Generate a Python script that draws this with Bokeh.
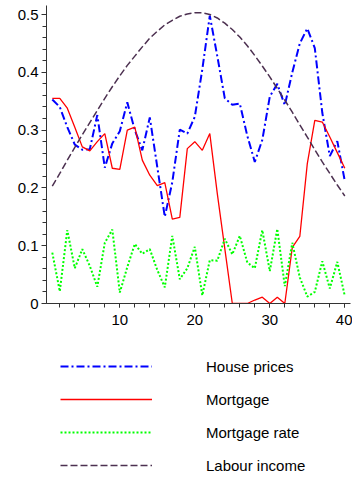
from bokeh.plotting import figure
from bokeh.models import Range1d, Legend, LegendItem, SingleIntervalTicker
from bokeh.layouts import column
from bokeh.embed import file_html
from bokeh.resources import INLINE

# ---- data ----
t = list(range(1, 41))
house_prices = [0.353, 0.340, 0.305, 0.275, 0.266, 0.267, 0.326, 0.235, 0.277, 0.298,
                0.348, 0.300, 0.265, 0.322, 0.236, 0.150, 0.210, 0.301, 0.294, 0.323,
                0.405, 0.498, 0.428, 0.355, 0.344, 0.346, 0.290, 0.245, 0.283, 0.358,
                0.380, 0.343, 0.400, 0.450, 0.476, 0.442, 0.330, 0.255, 0.281, 0.212]
mortgage = [0.355, 0.355, 0.338, 0.305, 0.271, 0.264, 0.280, 0.294, 0.234, 0.232,
            0.300, 0.305, 0.248, 0.222, 0.204, 0.209, 0.146, 0.149, 0.268, 0.280,
            0.265, 0.294, 0.190, 0.095, 0.000, 0.000, 0.000, 0.006, 0.011, 0.000,
            0.011, 0.000, 0.097, 0.116, 0.242, 0.317, 0.314, 0.288, 0.261, 0.234]
mortgage_rate = [0.088, 0.021, 0.127, 0.061, 0.094, 0.065, 0.029, 0.105, 0.128, 0.019,
                 0.063, 0.103, 0.086, 0.094, 0.058, 0.028, 0.117, 0.042, 0.061, 0.098,
                 0.014, 0.075, 0.074, 0.112, 0.085, 0.117, 0.071, 0.061, 0.127, 0.056,
                 0.129, 0.030, 0.105, 0.045, 0.012, 0.020, 0.073, 0.026, 0.072, 0.013]
labour_income = [0.203, 0.225, 0.248, 0.270, 0.292, 0.313, 0.334, 0.355, 0.375, 0.394,
                 0.412, 0.428, 0.444, 0.459, 0.471, 0.482, 0.490, 0.497, 0.501, 0.503,
                 0.503, 0.500, 0.494, 0.485, 0.474, 0.461, 0.446, 0.429, 0.411, 0.392,
                 0.372, 0.352, 0.331, 0.309, 0.288, 0.266, 0.245, 0.225, 0.205, 0.186]
series_names = ["House prices", "Mortgage", "Mortgage rate", "Labour income"]
y_zero_label = {0: "0"}

FONT = "Liberation Sans"
AX = "#333333"

styles = [
    dict(line_color="#0000ff", line_width=2, line_dash="8 3 2 3"),
    dict(line_color="red", line_width=1.3, line_dash="200 1"),
    dict(line_color="#00ff00", line_width=2, line_dash="2 2"),
    dict(line_color="#4c3050", line_width=1.5, line_dash="7 3"),
]
series = [house_prices, mortgage, mortgage_rate, labour_income]

# ---- chart ----
p = figure(width=352, height=330, x_range=Range1d(0.227, 40.76), y_range=Range1d(0, 0.5156),
           output_backend="svg", toolbar_location=None,
           min_border_left=46, min_border_right=2, min_border_top=5, min_border_bottom=27)
p.outline_line_color = None
p.grid.visible = False
p.background_fill_color = "white"

for vals, st in zip(series, styles):
    st_plot = dict(st)
    if st_plot["line_dash"] == "200 1":
        st_plot["line_dash"] = "solid"
    p.line(t, vals, **st_plot)

p.xaxis.ticker = SingleIntervalTicker(interval=10, num_minor_ticks=5)
p.yaxis.ticker = SingleIntervalTicker(interval=0.1, num_minor_ticks=5)
p.yaxis.major_label_overrides = y_zero_label
for ax in (p.xaxis[0], p.yaxis[0]):
    ax.axis_line_color = AX
    ax.major_tick_line_color = AX
    ax.minor_tick_line_color = AX
    ax.major_tick_in = 0
    ax.minor_tick_in = 0
    ax.minor_tick_out = 4
    ax.major_label_text_font = FONT
    ax.major_label_text_font_size = "15px"
    ax.major_label_text_color = "#000000"
p.xaxis.major_tick_out = 4
p.yaxis.major_tick_out = 5
p.xaxis.major_label_standoff = 7
p.yaxis.major_label_standoff = 3

# ---- legend panel (hidden copies of the series act as legend proxies) ----
q = figure(width=352, height=148, x_range=Range1d(0.227, 40.76), y_range=Range1d(0, 0.5156),
           output_backend="svg", toolbar_location=None, min_border=0,
           min_border_left=46, min_border_right=2,
           x_axis_location=None, y_axis_location=None)
q.outline_line_color = None
q.grid.visible = False
items = []
for name, vals, st in zip(series_names, series, styles):
    r = q.line(t, vals, visible=False, **st)
    items.append(LegendItem(label=name, renderers=[r], index=0))
legend = Legend(items=items, location=(14, 4), glyph_width=92, glyph_height=18,
                label_height=18, label_standoff=54, spacing=15, padding=0, margin=0,
                border_line_color=None, background_fill_alpha=0,
                label_text_font=FONT, label_text_font_size="15px", label_text_color="#000000")
q.add_layout(legend)

layout = column(p, q, spacing=0)
open("out.html", "w").write(file_html(layout, INLINE))
